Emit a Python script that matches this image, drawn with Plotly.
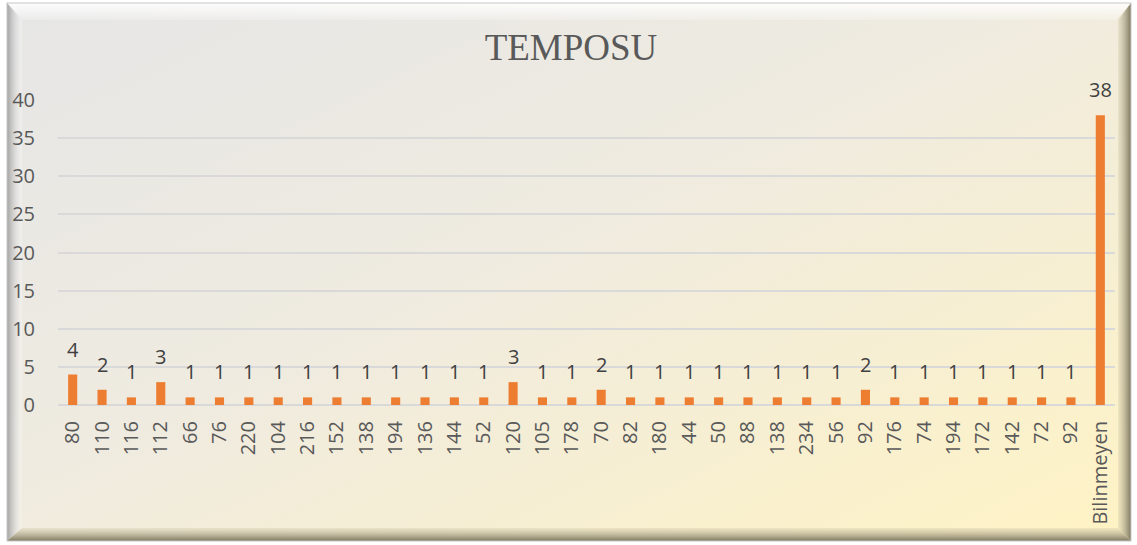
import base64
import plotly.graph_objects as go

categories = ["80", "110", "116", "112", "66", "76", "220", "104", "216", "152", "138", "194",
              "136", "144", "52", "120", "105", "178", "70", "82", "180", "44", "50", "88",
              "138", "234", "56", "92", "176", "74", "194", "172", "142", "72", "92", "Bilinmeyen"]
counts = [4, 2, 1, 3, 1, 1, 1, 1, 1, 1, 1, 1,
          1, 1, 1, 3, 1, 1, 2, 1, 1, 1, 1, 1,
          1, 1, 1, 2, 1, 1, 1, 1, 1, 1, 1, 38]
title_text = "TEMPOSU"
y_ticks = [0, 5, 10, 15, 20, 25, 30, 35, 40]

W, H = 1137, 545
ML, MR, MT, MB = 58, 22, 100, 140
PW, PH = W - ML - MR, H - MT - MB

svg = f'''<svg xmlns="http://www.w3.org/2000/svg" width="{W}" height="{H}" viewBox="0 0 {W} {H}">
<defs>
<linearGradient id="g" x1="0" y1="0" x2="1" y2="1">
<stop offset="0" stop-color="#e6e6e6"/>
<stop offset="0.45" stop-color="#efebe0"/>
<stop offset="1" stop-color="#fff3c4"/>
</linearGradient>
<linearGradient id="lt" x1="0" y1="0" x2="0" y2="1">
<stop offset="0" stop-color="#ffffff" stop-opacity="0.9"/>
<stop offset="1" stop-color="#ffffff" stop-opacity="0.2"/>
</linearGradient>
<linearGradient id="ll" x1="0" y1="0" x2="1" y2="0">
<stop offset="0" stop-color="#9a9a9a" stop-opacity="0.9"/>
<stop offset="1" stop-color="#ffffff" stop-opacity="0.3"/>
</linearGradient>
<linearGradient id="lb" x1="0" y1="0" x2="0" y2="1">
<stop offset="0" stop-color="#d8d0b0" stop-opacity="0.4"/>
<stop offset="1" stop-color="#7d775f" stop-opacity="1"/>
</linearGradient>
<linearGradient id="lr" x1="0" y1="0" x2="1" y2="0">
<stop offset="0" stop-color="#d8d0b0" stop-opacity="0.4"/>
<stop offset="1" stop-color="#7d775f" stop-opacity="1"/>
</linearGradient>
</defs>
<rect x="0" y="0" width="{W}" height="{H}" fill="#ffffff"/>
<rect x="7" y="3" width="1124" height="538" fill="url(#g)"/>
<polygon points="7,3 1131,3 1116,20 22,20" fill="url(#lt)"/>
<polygon points="7,3 22,20 22,528 7,541" fill="url(#ll)"/>
<polygon points="7,541 22,528 1118,528 1131,541" fill="url(#lb)"/>
<polygon points="1131,3 1131,541 1118,528 1118,20" fill="url(#lr)"/>
<rect x="7" y="3" width="1124" height="538" fill="none" stroke="#c8c8c8" stroke-width="1"/>
</svg>'''
src = "data:image/svg+xml;base64," + base64.b64encode(svg.encode()).decode()

x_idx = list(range(len(categories)))

fig = go.Figure()
fig.add_trace(go.Bar(
    x=x_idx, y=counts,
    marker=dict(color="#ED7D31", line=dict(width=0)),
    hoverinfo="skip",
))

annotations = [
    dict(x=xi, y=v, xref="x", yref="y", text=str(v), showarrow=False,
         xanchor="center", yanchor="bottom", yshift=11, borderpad=0,
         font=dict(family="Open Sans", size=20, color="#404040"))
    for xi, v in zip(x_idx, counts)
]

fig.update_layout(
    width=W, height=H,
    margin=dict(l=ML, r=MR, t=MT, b=MB, autoexpand=False),
    paper_bgcolor="rgba(0,0,0,0)",
    plot_bgcolor="rgba(0,0,0,0)",
    bargap=0.69,
    showlegend=False,
    annotations=annotations,
    title=dict(text=title_text, x=571 / W, xanchor="center", y=1 - 47 / H, yanchor="middle",
               xref="container", yref="container",
               font=dict(family="Liberation Serif", size=37, color="#595959")),
    images=[dict(source=src, xref="paper", yref="paper",
                 x=-ML / PW, y=1 + MT / PH, sizex=W / PW, sizey=H / PH,
                 xanchor="left", yanchor="top", sizing="stretch", layer="below")],
    xaxis=dict(
        range=[-0.5, len(categories) - 0.5],
        tickmode="array", tickvals=x_idx, ticktext=categories,
        tickangle=-90, showgrid=False, zeroline=False, showline=False,
        ticks="", ticklabelstandoff=11,
        tickfont=dict(family="Open Sans", size=20, color="#595959"),
    ),
    yaxis=dict(
        range=[0, 40], tickmode="array", tickvals=y_ticks,
        showgrid=True, gridcolor="#d9d9d9", gridwidth=1.5,
        zeroline=True, zerolinecolor="#d9d9d9", zerolinewidth=1.5,
        showline=False, ticks="", ticklabelstandoff=22,
        tickfont=dict(family="Open Sans", size=20, color="#595959"),
    ),
)

fig.write_html("out.html", config={"displayModeBar": False},
               post_script="document.body.style.margin='0';document.body.style.overflow='hidden';")
